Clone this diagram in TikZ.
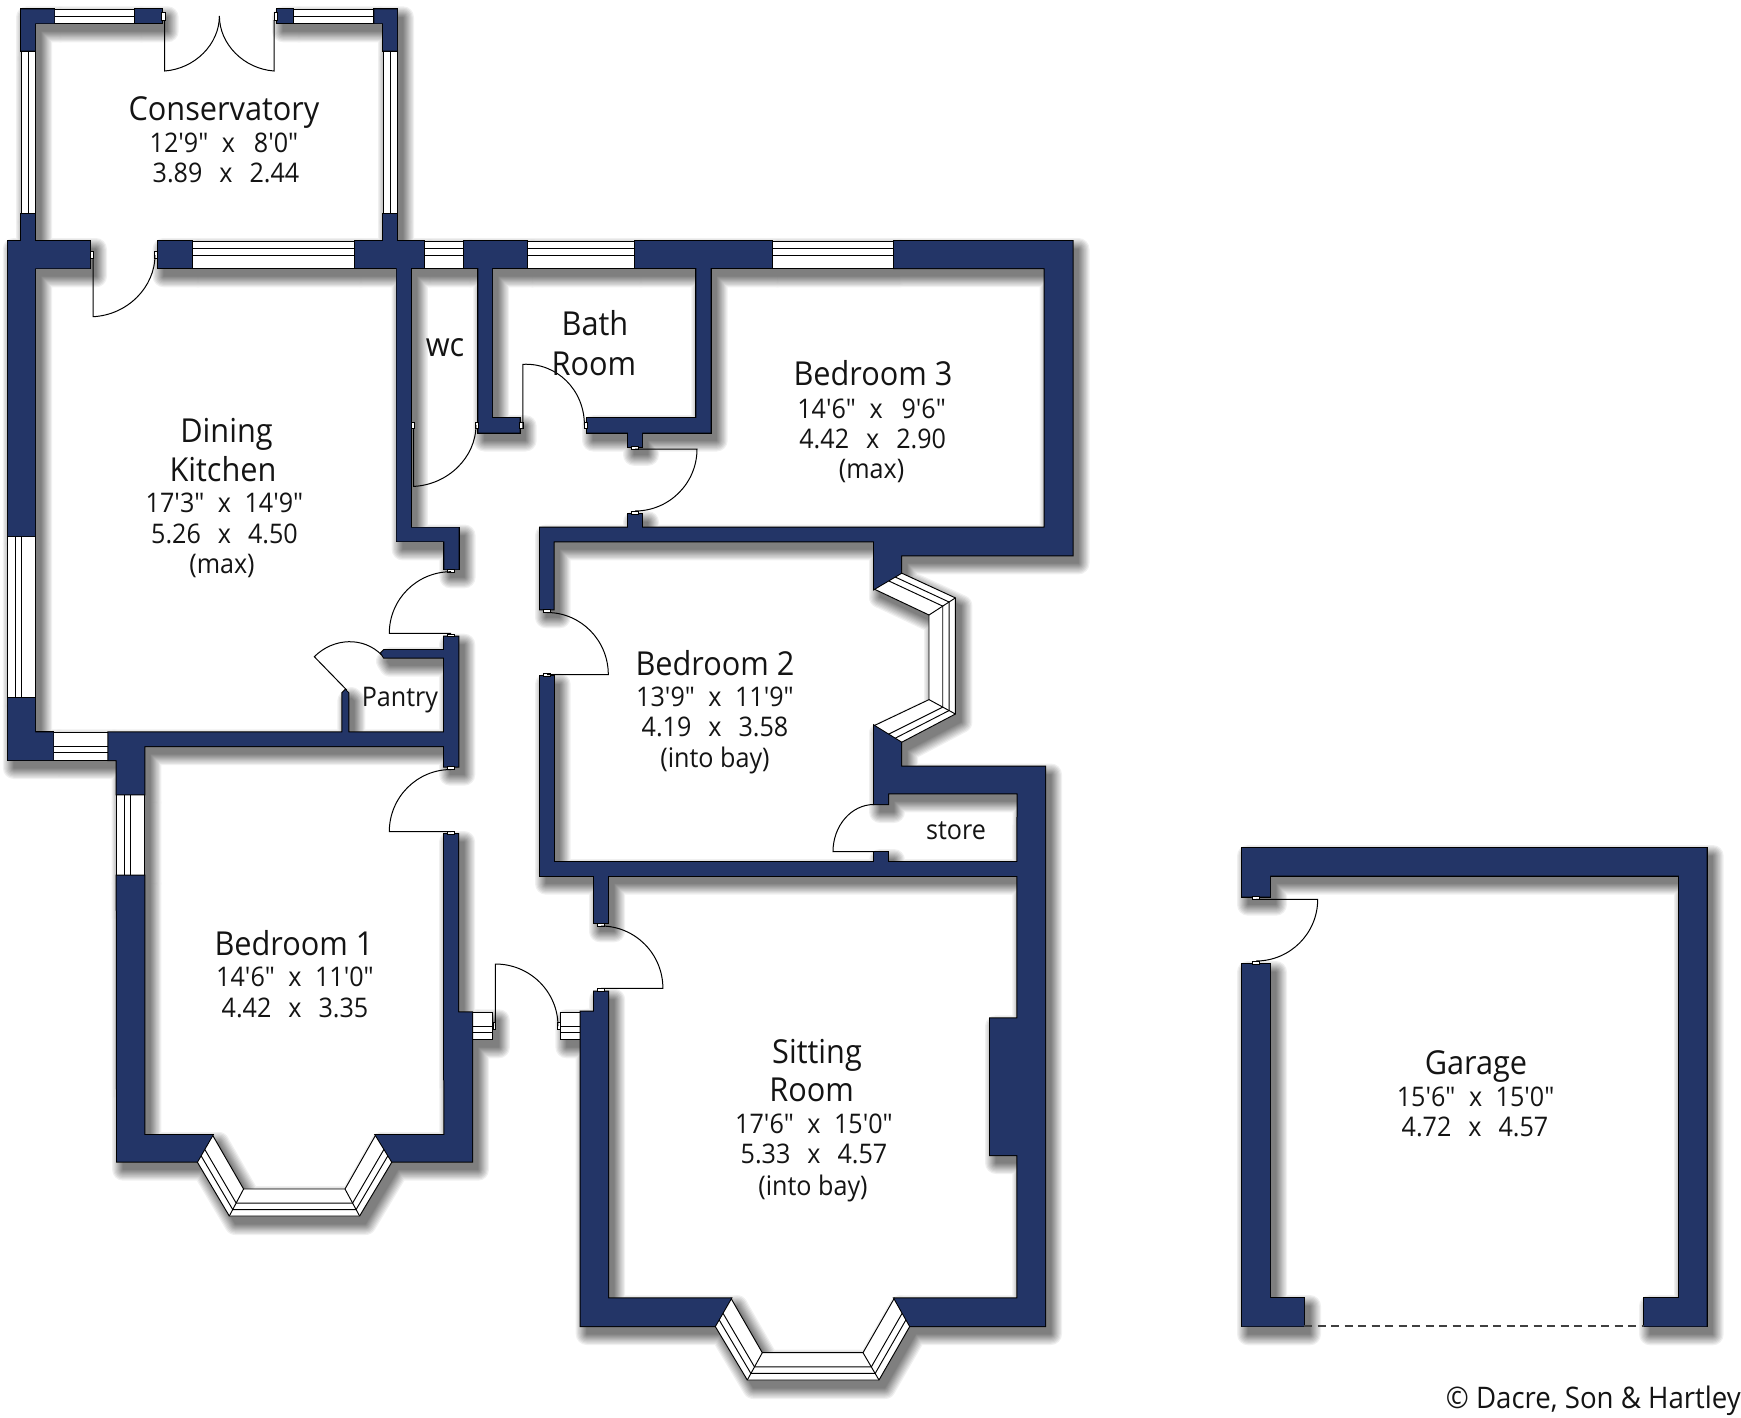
\documentclass[tikz,border=0pt]{standalone}
\usepackage{fontspec}
\usetikzlibrary{calc}
\newfontfamily\planfont[FakeStretch=0.93]{Open Sans}
\definecolor{wallblue}{HTML}{233567}
\newcommand\mgap{\hspace{.63em}}
\tikzset{
  wallstyle/.style={},
  door/.style={draw=black,line width=1pt},
  jambbox/.style={draw=black,fill=white,line width=.7pt},
  winbox/.style={draw=black,fill=white,line width=.95pt},
  winline/.style={draw=black,line width=.95pt},
  big/.style={font=\planfont\fontsize{33}{33}\selectfont,text=black!92,inner sep=0pt,text height=24pt,text depth=7pt,yshift=-2.5pt},
  dim/.style={font=\planfont\fontsize{27}{27}\selectfont,text=black!92,inner sep=0pt,text height=20pt,text depth=6pt,yshift=-2.5pt},
  mid/.style={font=\planfont\fontsize{27}{27}\selectfont,text=black!92,inner sep=0pt,text height=20pt,text depth=6pt,yshift=-2.5pt},
}
\newcommand\wl{\path[wallstyle]}
\newcommand\bayshape[8]{\wl (#1)--(#2)--(#3)--(#4)--(#8)--(#7)--(#6)--(#5)--cycle;}
\newcommand\baydraw[8]{%
  \path[winbox] (#1)--(#2)--(#3)--(#4)--(#8)--(#7)--(#6)--(#5)--cycle;
  \foreach \tt in {.52,.76}{%
    \draw[winline] ($(#1)!\tt!(#5)$)--($(#2)!\tt!(#6)$)--($(#3)!\tt!(#7)$)--($(#4)!\tt!(#8)$);}
  \draw[winline] (#2)--(#6) (#3)--(#7);
}
\newcommand\bays[1]{%
  #1{212.5,1135}{243.6,1189}{345,1189}{375.7,1135}{197.1,1161.7}{229.3,1216}{359.6,1216}{392.1,1161.7}
  #1{731,1298.3}{762.3,1352.7}{863,1352.7}{894.3,1298.3}{715,1326}{747.3,1380}{879,1380}{910,1326}
  #1{874,589}{929,615}{929,699.6}{874,725.7}{901.2,572.9}{955.4,597.9}{955.4,714}{901.2,742.5}
}
\newcommand\windowrects{%
  \wl (54.4,9.3) rectangle (135.4,23.3);
  \wl (293,9.3) rectangle (374.4,23.3);
  \wl (21,50.7) rectangle (35,214);
  \wl (383,50.7) rectangle (397,214);
  \wl (192,241) rectangle (355,268.3);
  \wl (424,241) rectangle (464.3,268.3);
  \wl (526.5,241) rectangle (635,268.3);
  \wl (771.7,241) rectangle (894,268.3);
  \wl (7.8,536) rectangle (35,698);
  \wl (53.3,732.3) rectangle (108.3,760);
  \wl (116.7,794.3) rectangle (144.3,875.7);
  \wl (472,1012.3) rectangle (492.9,1039.3);
  \wl (560.4,1012.3) rectangle (580.7,1039.3);
}
\newcommand\walls{%
  \wl (21,9.3)--(54.4,9.3)--(54.4,23.3)--(35,23.3)--(35,50.7)--(21,50.7)--cycle;
  \wl (135.4,9.3) rectangle (161.7,23.3);
  \wl (277,9.3) rectangle (293,23.3);
  \wl (374.4,9.3)--(397,9.3)--(397,50.7)--(383,50.7)--(383,23.3)--(374.4,23.3)--cycle;
  \wl (21,214) rectangle (35,245);
  \wl (383,214) rectangle (397,245);
  \wl (7.8,241)--(90,241)--(90,268.3)--(35,268.3)--(35,536)--(7.8,536)--cycle;
  \wl (7.8,698)--(35,698)--(35,732.3)--(53.3,732.3)--(53.3,760)--(7.8,760)--cycle;
  \wl (157.6,241) rectangle (192,268.3);
  \wl (355,241) rectangle (424,268.3);
  \wl (464.3,241) rectangle (526.5,268.3);
  \wl (635,241) rectangle (771.7,268.3);
  \wl (894,241)--(1072.5,241)--(1072.5,555.4)--(901.2,555.4)--(901.2,572.9)--(874,589)--(874,541.4)--(553.7,541.4)--(553.7,609.3)--(540,609.3)--(540,527.5)--(1044.5,527.5)--(1044.5,268)--(894,268)--cycle;
  \wl (396.6,266)--(410.9,266)--(410.9,527.5)--(458.6,527.5)--(458.6,569.3)--(444.4,569.3)--(444.4,541.4)--(396.6,541.4)--cycle;
  \wl (478.4,266)--(492,266)--(492,418.2)--(519.7,418.2)--(519.7,432.5)--(478.4,432.5)--cycle;
  \wl (587,418.2)--(696.4,418.2)--(696.4,266)--(710.7,266)--(710.7,432.5)--(642,432.5)--(642,446.8)--(628,446.8)--(628,432.5)--(587,432.5)--cycle;
  \wl (628,514) rectangle (642,529);
  \wl (108.3,732.3)--(342.3,732.3)--(342.3,693)--(345.3,690)--(348.3,693)--(348.3,732.3)--(444,732.3)--(444,636.7)--(458.3,636.7)--(458.3,766.7)--(444,766.7)--(444,746)--(144.3,746)--(144.3,794.3)--(116.7,794.3)--(116.7,760)--(108.3,760)--cycle;
  \wl (381,653)--(384,650)--(445,650)--(445,657.7)--(384,657.7)--cycle;
  \wl (116.7,875.7)--(144.3,875.7)--(144.3,1135)--(212.5,1135)--(197.1,1161.7)--(117.1,1161.7)--cycle;
  \wl (444,834)--(458.2,834)--(458.2,1012.3)--(472,1012.3)--(472,1161.7)--(392.1,1161.7)--(375.7,1135)--(444.3,1135)--cycle;
  \wl (540,862) rectangle (1019,875.7);
  \wl (874,725.7)--(901.2,742.5)--(901.2,766.5)--(1045,766.5)--(1045,1326)--(910,1326)--(894.3,1298.3)--(1017.3,1298.3)--(1017.3,1155)--(990,1155)--(990,1018.3)--(1017.4,1018.3)--(1017.5,793.3)--(888,793.3)--(888,804)--(874,804)--cycle;
  \wl (874,852) rectangle (888,864);
  \wl (540,676.4) rectangle (553.7,864);
  \wl (594,874) rectangle (608.2,923.3);
  \wl (594,991.7)--(608.2,991.7)--(608.2,1298.3)--(731,1298.3)--(715,1326)--(580.7,1326)--(580.7,1011.7)--(594,1011.7)--cycle;
  \wl (1242,848)--(1706.7,848)--(1706.7,1326.3)--(1644,1326.3)--(1644,1298)--(1679,1298)--(1679,875.7)--(1270,875.7)--(1270,896.7)--(1242,896.7)--cycle;
  \wl (1242,964)--(1270,964)--(1270,1298)--(1304,1298)--(1304,1326.3)--(1242,1326.3)--cycle;
}
\newcommand\doorarc[3]{\draw[door] (#2)--(#1) .. controls ($(#1)!.5523!($(#1)+(#3)-(#2)$)$) and ($(#3)!.5523!($(#1)+(#3)-(#2)$)$) .. (#3);}
\newcommand\shadowlayer[1]{%
  \begin{scope}[shift={(6,8)},transparency group,opacity=.06,
     wallstyle/.style={fill=black,draw=black,line width=#1pt,line join=round}]
    \windowrects \walls \bays{\bayshape}
  \end{scope}}
\begin{document}
\begin{tikzpicture}[x=1pt,y=-1pt]
\path[fill=white] (0,0) rectangle (1741,1417);
\useasboundingbox (0,0) rectangle (1741,1417);
% shadows
\foreach \sw in {22,19.5,17,14.5,12,10,8,6,4,2,.2}{\shadowlayer{\sw}}
% windows
\begin{scope}[wallstyle/.style={winbox}]
  \windowrects
\end{scope}
\draw[winline] (54.4,16.6)--(135.4,16.6) (293,16.6)--(374.4,16.6) (28,50.7)--(28,214) (390,50.7)--(390,214);
\foreach \xa/\xb in {192/355,424/464.3,526.5/635,771.7/894}{\draw[winline] (\xa,248)--(\xb,248) (\xa,255)--(\xb,255);}
\draw[winline] (15,536)--(15,698) (21.7,536)--(21.7,698);
\draw[winline] (53.3,746)--(108.3,746) (53.3,752.7)--(108.3,752.7);
\draw[winline] (124,794.3)--(124,875.7) (130.7,794.3)--(130.7,875.7);
\draw[winline] (472,1026)--(492.9,1026) (472,1032.7)--(492.9,1032.7);
\draw[winline] (560.4,1026)--(580.7,1026) (560.4,1032.7)--(580.7,1032.7);
\bays{\baydraw}
% walls
\begin{scope}[wallstyle/.style={draw=black,line width=2pt,line join=miter}]
  \walls
\end{scope}
\begin{scope}[wallstyle/.style={fill=wallblue}]
  \walls
\end{scope}
% door jambs
\foreach \ax/\ay/\bx/\by in {161.7/12.7/165/20.7,274/12.7/277/20.7,90/251.7/93/258,154.6/251.7/157.6/258,410.9/422/414/428,475.4/422/478.4/428,519.7/422/522.9/428,584/422/587/428,631.5/446.8/638.5/449.5,631.5/511/638.5/514,447.5/569.3/454.5/572,447.5/634/454.5/636.7,447.5/766.7/454.5/769.5,447.5/831.5/454.5/834,543.5/609.3/550.5/612.5,543.5/673.5/550.5/676.4,597.5/923.3/604.5/926,597.5/988.7/604.5/991.7,492.9/1022.7/495.4/1029,557.5/1022.7/560.4/1029,1252.3/896.7/1259.3/899.5,1252.3/961/1259.3/964}{\path[jambbox] (\ax,\ay) rectangle (\bx,\by);}
% doors
\doorarc{164.6,71}{164.6,20}{219.4,16}
\doorarc{274,71}{274,20}{219.4,16}
\doorarc{93,316.7}{93,258}{155,255}
\doorarc{413.6,486.4}{413.6,428}{476,425}
\doorarc{522.9,364.3}{522.9,428}{584.4,425}
\doorarc{697,449}{635,449}{635,511}
\doorarc{389.3,633.3}{451,633.3}{451,571.7}
\doorarc{389.3,831.7}{451,831.7}{451,769.5}
\doorarc{608.3,674.6}{547,674.6}{547,612.5}
\doorarc{833,851.7}{874,851.7}{874,804.5}
\doorarc{662.9,988.3}{601,988.3}{601,926}
\doorarc{495.4,964}{495.4,1026}{558,1026}
\doorarc{1317.7,899.3}{1256,899.3}{1256,961}
\doorarc{314.3,656.7}{346.7,690}{381.7,655}
% garage door
\coordinate (gdl) at (1304,1326);
\coordinate (gdr) at (1644,1326);
\draw[black!75,line width=1.1pt,dash pattern=on 8pt off 5.5pt] (gdl)--(gdr);
% labels
\node[big] (cons) at (224,109) {Conservatory};
\node[dim] (consa) at (224,143) {12'9"\hspace{.5em}x\hspace{.7em}8'0"};
\node[dim] (consb) at (226,173) {3.89\mgap x\mgap 2.44};
\node[big] (din) at (226.5,431) {Dining};
\node[big] (kit) at (223,470) {Kitchen};
\node[dim] (kita) at (224.5,503) {17'3"\hspace{.5em}x\hspace{.5em}14'9"};
\node[dim] (kitb) at (224.5,534) {5.26\mgap x\mgap 4.50};
\node[dim] (kitc) at (222,564) {(max)};
\node[big] (wc) at (445,345) {wc};
\node[big] (bath) at (595,324) {Bath};
\node[big] (bathb) at (594,364) {Room};
\node[big] (bedc) at (873,374) {Bedroom 3};
\node[dim] (bedca) at (871.6,408.6) {14'6"\hspace{.5em}x\hspace{.7em}9'6"};
\node[dim] (bedcb) at (872.7,438.6) {4.42\mgap x\mgap 2.90};
\node[dim] (bedcc) at (871.6,468.6) {(max)};
\node[big] (bedb) at (715,664) {Bedroom 2};
\node[dim] (bedba) at (715,697) {13'9"\hspace{.5em}x\hspace{.5em}11'9"};
\node[dim] (bedbb) at (715,727) {4.19\mgap x\mgap 3.58};
\node[dim] (bedbc) at (715,758) {(into bay)};
\node[mid] (pantry) at (400,697) {Pantry};
\node[mid] (store) at (956,829.5) {store};
\node[big] (beda) at (294,944) {Bedroom 1};
\node[dim] (bedaa) at (295,977) {14'6"\hspace{.5em}x\hspace{.5em}11'0"};
\node[dim] (bedab) at (295,1008) {4.42\mgap x\mgap 3.35};
\node[big] (sit) at (817,1052) {Sitting};
\node[big] (room) at (811.6,1090) {Room};
\node[dim] (sita) at (814,1124) {17'6"\hspace{.5em}x\hspace{.5em}15'0"};
\node[dim] (sitb) at (814,1154) {5.33\mgap x\mgap 4.57};
\node[dim] (sitc) at (813,1186) {(into bay)};
\node[big] (gar) at (1476,1063) {Garage};
\node[dim] (gara) at (1475.6,1097) {15'6"\hspace{.5em}x\hspace{.5em}15'0"};
\node[dim] (garb) at (1475,1127) {4.72\mgap x\mgap 4.57};
\node[mid,font=\planfont\fontsize{29.7}{30}\selectfont,anchor=east] (copy) at (1741,1399) {© Dacre, Son \& Hartley};
\end{tikzpicture}
\end{document}
